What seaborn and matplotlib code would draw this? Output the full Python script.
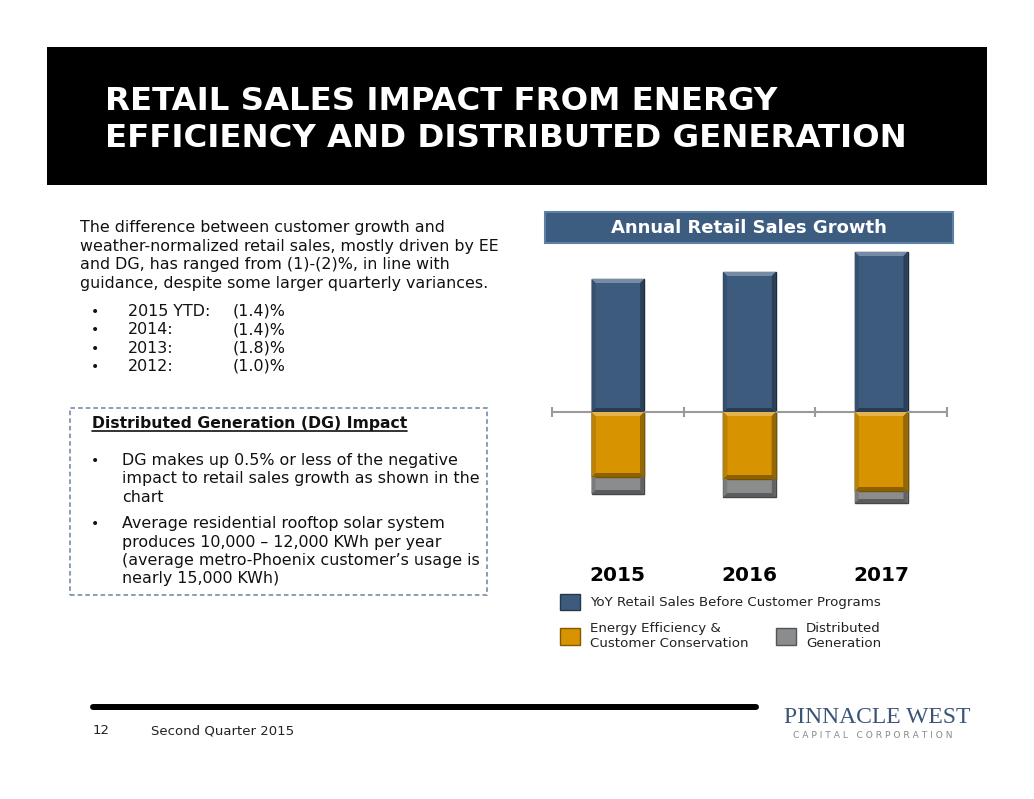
import numpy as np
import pandas as pd
import matplotlib
matplotlib.use('Agg')
import matplotlib.pyplot as plt
import matplotlib.colors as mcolors
from matplotlib.patches import Rectangle, Polygon, Patch
from matplotlib.lines import Line2D
import seaborn as sns

# Chart values (% growth, approx.)
years = ['2015', '2016', '2017']
before_programs = [2.66, 2.80, 3.20]
ee_conservation = [-1.30, -1.34, -1.58]
dist_gen = [-0.34, -0.36, -0.24]

# Slide text
title_lines = ['RETAIL SALES IMPACT FROM ENERGY', 'EFFICIENCY AND DISTRIBUTED GENERATION']
intro_lines = ['The difference between customer growth and',
               'weather-normalized retail sales, mostly driven by EE',
               'and DG, has ranged from (1)-(2)%, in line with',
               'guidance, despite some larger quarterly variances.']
hist_labels = ['2015 YTD:', '2014:', '2013:', '2012:']
hist_values = ['(1.4)%', '(1.4)%', '(1.8)%', '(1.0)%']
dg_heading = 'Distributed Generation (DG) Impact'
dg_bullets = [['DG makes up 0.5% or less of the negative',
               'impact to retail sales growth as shown in the',
               'chart'],
              ['Average residential rooftop solar system',
               'produces 10,000 \u2013 12,000 KWh per year',
               '(average metro-Phoenix customer\u2019s usage is',
               'nearly 15,000 KWh)']]
legend_labels = ['YoY Retail Sales Before Customer Programs',
                 'Energy Efficiency &\nCustomer Conservation',
                 'Distributed\nGeneration']

BLUE = '#3d5b7d'
ORANGE = '#d89300'
GRAY = '#8a8c8e'
TXT = '#111111'
BODY = 11.45

sns.set_style('white')
plt.rcParams['font.family'] = ['DejaVu Sans']

W, H = 1034, 799
fig = plt.figure(figsize=(W / 100, H / 100), dpi=100)


def fx(x):
    return x / W


def fy(y):
    return 1 - y / H


def shade(c, f):
    r = np.array(mcolors.to_rgb(c))
    if f > 0:
        r = r + (1 - r) * f
    else:
        r = r * (1 + f)
    return tuple(np.clip(r, 0, 1))


# black title banner
fig.patches.append(Rectangle((fx(47), fy(185)), fx(940), 138 / H, transform=fig.transFigure,
                             facecolor='black', edgecolor='none', zorder=0))
for i, line in enumerate(title_lines):
    fig.text(fx(105), fy(110 + 37 * i), line, color='white', fontsize=23.3,
             fontweight='bold', va='baseline', ha='left')

# intro paragraph
for i, line in enumerate(intro_lines):
    fig.text(fx(80), fy(232 + 18.6 * i), line, fontsize=BODY, va='baseline', color=TXT)
for i, (lab, val) in enumerate(zip(hist_labels, hist_values)):
    yb = 316 + 18.3 * i
    fig.text(fx(91), fy(yb), '\u2022', fontsize=10, va='baseline', color=TXT)
    fig.text(fx(128), fy(yb), lab, fontsize=BODY, va='baseline', color=TXT)
    fig.text(fx(233), fy(yb), val, fontsize=BODY, va='baseline', color=TXT)

# DG box
fig.patches.append(Rectangle((fx(70), fy(595)), fx(417), 187 / H, transform=fig.transFigure,
                             fill=False, edgecolor='#6a82a0', linewidth=1.1,
                             linestyle=(0, (3, 2)), zorder=1))
head = fig.text(fx(92), fy(428), dg_heading, fontsize=11.25, fontweight='bold',
                va='baseline', color=TXT)
yb = 465
for bullet in dg_bullets:
    fig.text(fx(91), fy(yb), '\u2022', fontsize=10, va='baseline', color=TXT)
    for line in bullet:
        fig.text(fx(122), fy(yb), line, fontsize=BODY, va='baseline', color=TXT)
        yb += 18.5
    yb += 7.5

# chart header banner
fig.patches.append(Rectangle((fx(545), fy(243)), fx(408), 31 / H, transform=fig.transFigure,
                             facecolor='#3c5c80', edgecolor='#5f80a6', linewidth=1.5, zorder=1))
fig.text(fx(749), fy(228), 'Annual Retail Sales Growth', color='white', fontsize=13,
         fontweight='bold', ha='center', va='center')

# bar chart
ax = fig.add_axes([fx(552), fy(510), fx(395), 265 / H])
df = pd.DataFrame({'year': years, 'before': before_programs,
                   'ee': ee_conservation, 'dg': dist_gen})
df['neg_total'] = df['ee'] + df['dg']

sns.barplot(data=df, x='year', y='before', color=BLUE, width=0.4, saturation=1,
            edgecolor=shade(BLUE, -0.55), linewidth=1, ax=ax)
sns.barplot(data=df, x='year', y='neg_total', color=GRAY, width=0.4, saturation=1,
            edgecolor=shade(GRAY, -0.5), linewidth=1, ax=ax)
sns.barplot(data=df, x='year', y='ee', color=ORANGE, width=0.4, saturation=1,
            edgecolor=shade(ORANGE, -0.45), linewidth=1, ax=ax)

ymin, ymax = -1.96, 3.34
ax.set_ylim(ymin, ymax)
ax.set_xlim(-0.5, len(years) - 0.5)

# thin bevel on each bar
px_x = len(years) / 395.0
px_y = (ymax - ymin) / 265.0
for p in list(ax.patches):
    if p.get_height() == 0:
        continue
    x0, w = p.get_x(), p.get_width()
    y0 = min(p.get_y(), p.get_y() + p.get_height())
    y1 = max(p.get_y(), p.get_y() + p.get_height())
    c = p.get_facecolor()
    bx = 4 * px_x
    by = min(4 * px_y, (y1 - y0) / 3)
    ax.add_patch(Polygon([(x0, y1), (x0 + w, y1), (x0 + w - bx, y1 - by), (x0 + bx, y1 - by)],
                         closed=True, facecolor=shade(c, 0.3), edgecolor='none', zorder=3))
    ax.add_patch(Polygon([(x0, y0), (x0 + w, y0), (x0 + w - bx, y0 + by), (x0 + bx, y0 + by)],
                         closed=True, facecolor=shade(c, -0.35), edgecolor='none', zorder=3))
    ax.add_patch(Polygon([(x0 + w, y0), (x0 + w, y1), (x0 + w - bx, y1 - by), (x0 + w - bx, y0 + by)],
                         closed=True, facecolor=shade(c, -0.3), edgecolor='none', zorder=3))
    ax.add_patch(Polygon([(x0, y0), (x0, y1), (x0 + bx, y1 - by), (x0 + bx, y0 + by)],
                         closed=True, facecolor=shade(c, -0.12), edgecolor='none', zorder=3))

# zero axis with category boundary ticks
ax.axhline(0, color='#9a9a9a', linewidth=1.5, zorder=1)
bounds = np.arange(len(years) + 1) - 0.5
ax.vlines(bounds, -5 * px_y, 5 * px_y, color='#9a9a9a', linewidth=1.5,
          zorder=1, clip_on=False)

for s in ax.spines.values():
    s.set_visible(False)
ax.set_yticks([])
ax.set_xlabel('')
ax.set_ylabel('')
ax.tick_params(axis='x', length=0, pad=40, labelcolor='black')
for t in ax.get_xticklabels():
    t.set_fontsize(14.5)
    t.set_fontweight('bold')
ax.patch.set_alpha(0)

# legend
h_blue = Patch(facecolor=BLUE, edgecolor=shade(BLUE, -0.4))
h_or = Patch(facecolor=ORANGE, edgecolor=shade(ORANGE, -0.4))
h_gr = Patch(facecolor=GRAY, edgecolor=shade(GRAY, -0.4))
leg_kw = dict(frameon=False, fontsize=9.6, handlelength=1.5, handleheight=1.5,
              handletextpad=0.8, borderpad=0, labelcolor='#222222')
fig.legend([h_blue], [legend_labels[0]], loc='center left',
           bbox_to_anchor=(fx(553), fy(602)), **leg_kw)
fig.legend([h_or, h_gr], legend_labels[1:], loc='center left', ncol=2,
           bbox_to_anchor=(fx(553), fy(636)), columnspacing=2.0, **leg_kw)

# footer
fig.add_artist(Line2D([fx(93), fx(756)], [fy(707), fy(707)], color='black', linewidth=4.3))
fig.text(fx(93), fy(734), '12', fontsize=9.5, va='baseline', color='#222222')
fig.text(fx(151), fy(734), 'Second Quarter 2015', fontsize=9.5, va='baseline', color='#222222')
fig.text(fx(877), fy(723), 'PINNACLE WEST', fontsize=17, va='baseline', ha='center',
         family='Liberation Serif', color='#3b5478')
fig.text(fx(873), fy(738), ' '.join(list('CAPITAL')) + '   ' + ' '.join(list('CORPORATION')),
         fontsize=6.6, va='baseline', ha='center', color='#8a8a8a')

# underline the DG heading
fig.canvas.draw()
bb = head.get_window_extent().transformed(fig.transFigure.inverted())
fig.add_artist(Line2D([bb.x0, bb.x1], [fy(431), fy(431)], color=TXT, linewidth=1.2))

fig.savefig('out.png', dpi=100)
